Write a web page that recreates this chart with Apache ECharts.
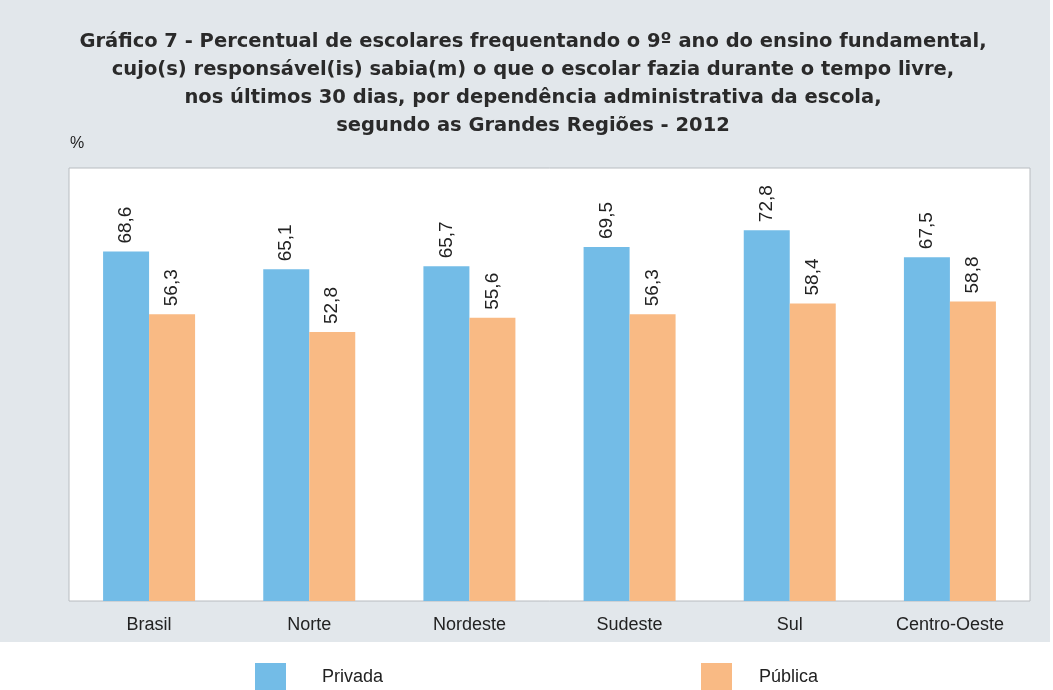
<!DOCTYPE html>
<html>
<head>
<meta charset="utf-8">
<script src="https://cdn.jsdelivr.net/npm/echarts@6/dist/echarts.min.js"></script>
<style>
  html, body { margin: 0; padding: 0; background: #fff; }
  #chart { width: 1053px; height: 690px; }
</style>
</head>
<body>
<div id="chart"></div>
<script>
// dados
var regioes = ['Brasil', 'Norte', 'Nordeste', 'Sudeste', 'Sul', 'Centro-Oeste'];
var privada = [68.6, 65.1, 65.7, 69.5, 72.8, 67.5];
var publica = [56.3, 52.8, 55.6, 56.3, 58.4, 58.8];

var fonte = '"Liberation Sans", Arial, sans-serif';
var fonteTitulo = '"DejaVu Sans", sans-serif';

function virgula(p) {
  return String(p.value).replace('.', ',');
}

var myChart = echarts.init(document.getElementById('chart'));

var rotulo = {
  show: true,
  position: 'top',
  rotate: 90,
  align: 'left',
  verticalAlign: 'middle',
  distance: 8,
  fontFamily: fonte,
  fontSize: 19,
  color: '#222',
  formatter: virgula
};

var option = {
  backgroundColor: '#fff',
  animation: false,
  graphic: [
    // fundo cinza atrás do título e do gráfico
    { type: 'rect', z: -10, shape: { x: 0, y: 0, width: 1050, height: 642 }, style: { fill: '#e2e7eb' } },
    { type: 'text', left: 70, top: 136, style: { text: '%', fontFamily: fonte, fontSize: 16, fill: '#222' } }
  ],
  title: {
    text: 'Gráfico 7 - Percentual de escolares frequentando o 9º ano do ensino fundamental,\ncujo(s) responsável(is) sabia(m) o que o escolar fazia durante o tempo livre,\nnos últimos 30 dias, por dependência administrativa da escola,\nsegundo as Grandes Regiões - 2012',
    left: 528,
    top: 23,
    textAlign: 'center',
    textStyle: {
      fontFamily: fonteTitulo,
      fontSize: 19.5,
      fontWeight: 'bold',
      color: '#2a2a2a',
      lineHeight: 28
    }
  },
  legend: [
    {
      data: ['Privada'],
      left: 255, top: 663,
      padding: 0,
      icon: 'rect',
      itemWidth: 31, itemHeight: 28,
      textStyle: { fontFamily: fonte, fontSize: 18, color: '#222', padding: [6, 0, 0, 31] }
    },
    {
      data: ['Pública'],
      left: 701, top: 663,
      padding: 0,
      icon: 'rect',
      itemWidth: 31, itemHeight: 28,
      textStyle: { fontFamily: fonte, fontSize: 18, color: '#222', padding: [6, 0, 0, 22] }
    }
  ],
  grid: {
    left: 69, right: 23, top: 168, bottom: 89,
    show: true,
    backgroundColor: '#fff',
    borderColor: '#b8bcc0',
    borderWidth: 1
  },
  xAxis: {
    type: 'category',
    data: regioes,
    axisLine: { show: false },
    axisTick: { show: false },
    axisLabel: { fontFamily: fonte, fontSize: 18, color: '#222', margin: 15 }
  },
  yAxis: {
    type: 'value',
    min: 0,
    max: 85,
    show: false
  },
  series: [
    {
      name: 'Privada',
      type: 'bar',
      data: privada,
      barWidth: 46,
      barGap: '0%',
      itemStyle: { color: '#73bce7' },
      label: rotulo
    },
    {
      name: 'Pública',
      type: 'bar',
      data: publica,
      barWidth: 46,
      itemStyle: { color: '#f9ba84' },
      label: rotulo
    }
  ]
};

myChart.setOption(option);
</script>
</body>
</html>
